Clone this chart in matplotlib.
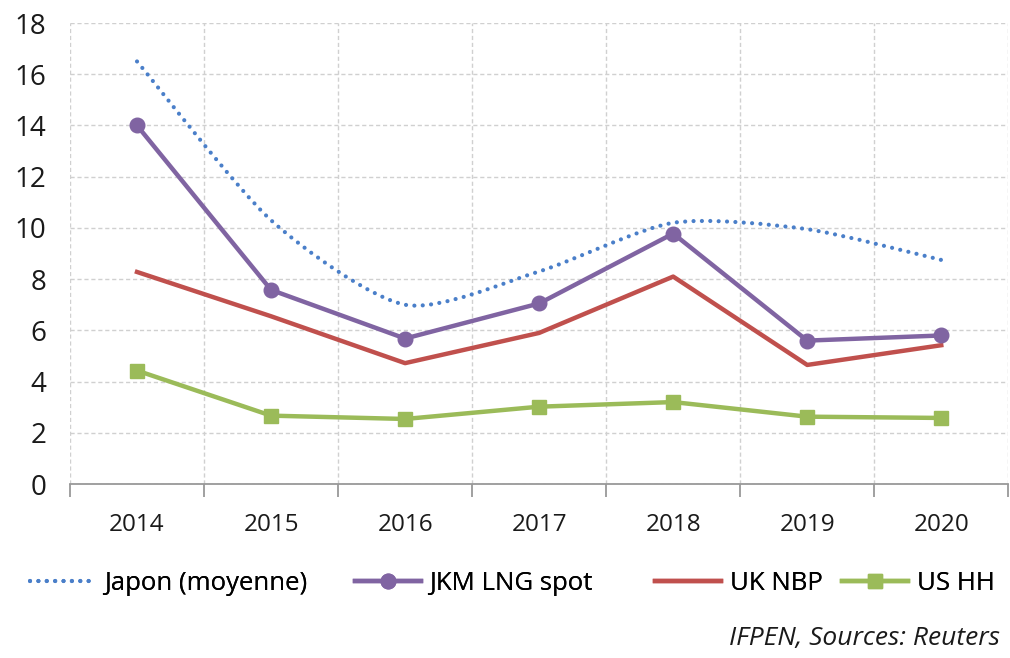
import matplotlib.pyplot as plt
from matplotlib.path import Path
from matplotlib.patches import PathPatch
from matplotlib.lines import Line2D

years = ['2014', '2015', '2016', '2017', '2018', '2019', '2020']
japon = [16.5, 10.3, 7.0, 8.3, 10.2, 9.95, 8.75]
jkm = [14.0, 7.58, 5.68, 7.05, 9.78, 5.6, 5.8]
uk_nbp = [8.28, 6.55, 4.72, 5.9, 8.1, 4.65, 5.42]
us_hh = [4.43, 2.67, 2.54, 3.02, 3.2, 2.63, 2.58]

BLUE = '#4a7fc9'
PURPLE = '#8064a2'
RED = '#c0504d'
GREEN = '#9bbb59'

plt.rcParams['font.family'] = ['Open Sans', 'DejaVu Sans']


def smooth_path(xs, ys, k=0.125):
    """Bezier through the points, close to Excel's smoothed line."""
    pts = list(zip(xs, ys))
    verts = [pts[0]]
    codes = [Path.MOVETO]
    n = len(pts)
    for i in range(n - 1):
        p0 = pts[i - 1] if i > 0 else pts[i]
        p1 = pts[i]
        p2 = pts[i + 1]
        p3 = pts[i + 2] if i + 2 < n else pts[i + 1]
        c1 = (p1[0] + (p2[0] - p0[0]) * k, p1[1] + (p2[1] - p0[1]) * k)
        c2 = (p2[0] - (p3[0] - p1[0]) * k, p2[1] - (p3[1] - p1[1]) * k)
        verts += [c1, c2, p2]
        codes += [Path.CURVE4] * 3
    return Path(verts, codes)


fig = plt.figure(figsize=(10.1, 6.58), dpi=100)
ax = fig.add_axes([0.0693, 0.2644, 0.929, 0.7006])

x = list(range(len(years)))
dot_style = (0, (0.01, 2.0))
dot_lw = 3.0

patch = PathPatch(smooth_path(x, japon), fill=False, edgecolor=BLUE,
                  linewidth=dot_lw, linestyle=dot_style, capstyle='round', zorder=3)
ax.add_patch(patch)
ax.plot(x, jkm, color=PURPLE, linewidth=3.2, marker='o', markersize=10.5, zorder=4)
ax.plot(x, uk_nbp, color=RED, linewidth=3.2, zorder=3)
ax.plot(x, us_hh, color=GREEN, linewidth=3.2, marker='s', markersize=10.5, zorder=4)

ax.set_xlim(-0.5, len(years) - 0.5)
ax.set_ylim(0, 18)
ax.set_yticks(range(0, 19, 2))
ax.set_xticks(x)
ax.set_xticklabels(years)
ax.set_xticks([i - 0.5 for i in range(len(years) + 1)], minor=True)

ax.grid(True, which='major', axis='y', color='#d0d0d0', linestyle=(0, (3, 2)), linewidth=1)
ax.grid(True, which='minor', axis='x', color='#d0d0d0', linestyle=(0, (3, 2)), linewidth=1)
ax.set_axisbelow(True)

for s in ['top', 'right', 'left']:
    ax.spines[s].set_visible(False)
ax.spines['bottom'].set_color('#999999')
ax.spines['bottom'].set_linewidth(1.3)

ax.tick_params(axis='y', length=0, labelsize=20, pad=17, colors='#1a1a1a')
ax.tick_params(axis='x', which='major', length=0, labelsize=17.5, pad=21, colors='#1a1a1a')
ax.tick_params(axis='x', which='minor', length=9, width=1.3, color='#999999')

handles = [
    Line2D([], [], color=BLUE, linewidth=dot_lw, linestyle=dot_style, dash_capstyle='round'),
    Line2D([], [], color=PURPLE, linewidth=3.2, marker='o', markersize=10.5),
    Line2D([], [], color=RED, linewidth=3.2),
    Line2D([], [], color=GREEN, linewidth=3.2, marker='s', markersize=10.5),
]
labels = ['Japon (moyenne)', 'JKM LNG spot', 'UK NBP', 'US HH']
legend_x = [30, 355, 655, 842]
leg_y = 1 - 583 / 658
for h, lab, lx in zip(handles, labels, legend_x):
    leg = fig.legend([h], [lab], loc='center left', bbox_to_anchor=(lx / 1010, leg_y),
                     frameon=False, fontsize=18.5, handlelength=2.55, handletextpad=0.35,
                     borderpad=0, borderaxespad=0)
    fig.add_artist(leg)

fig.text(0.99, 1 - 638 / 658, 'IFPEN, Sources: Reuters', ha='right', va='center',
         fontsize=19, style='italic', color='#1a1a1a')

fig.savefig('out.png', dpi=100)
